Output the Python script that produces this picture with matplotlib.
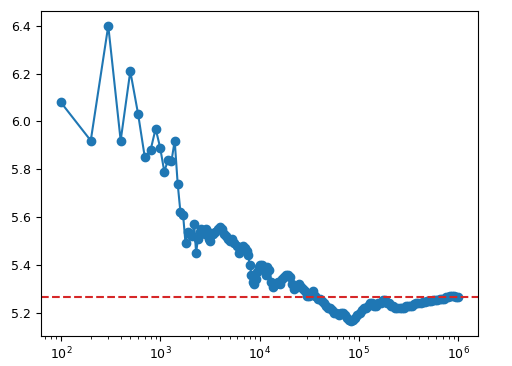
import numpy as np
import matplotlib.pyplot as plt

# number of samples
n = [100, 200, 300, 400, 500, 600, 700, 800, 900, 1000,
     1100, 1200, 1300, 1400, 1500, 1600, 1700, 1800, 1900,
     2000, 2100, 2200, 2300, 2400, 2500, 2600, 2700, 2800, 2900,
     3000, 3100, 3200, 3400, 3600, 3800, 4000, 4200, 4400, 4600,
     4800, 5000, 5300, 5600, 5900, 6200, 6500, 6800, 7100, 7400,
     7700, 8000, 8300, 8600, 8900, 9200, 9500, 9800, 10000, 10500,
     11000, 11500, 12000, 12600, 13200, 13800, 14500, 15200, 16000, 16800,
     17600, 18500, 19400, 20400, 21400, 22500, 23600, 24800, 26000, 27300,
     28700, 30100, 31600, 33200, 34900, 36600, 38400, 40300, 42300, 44400,
     46600, 49000, 51400, 54000, 56700, 59500, 62500, 65600, 68900, 72300,
     75900, 79700, 83700, 87900, 92300, 96900, 101700, 106800, 112100, 117700,
     123600, 129800, 136300, 143100, 150300, 157800, 165700, 174000, 182700, 191800,
     201400, 211500, 222100, 233200, 244900, 257100, 270000, 283500, 297700, 312600,
     328200, 344600, 361800, 379900, 398900, 418800, 439700, 461700, 484800, 509000,
     534500, 561200, 589300, 618800, 649700, 682200, 716300, 752100, 789700, 829200,
     870700, 914200, 959900, 1000000]

# running mean
mean = [6.08, 5.92, 6.40, 5.92, 6.21, 6.03, 5.85, 5.88, 5.97, 5.89,
        5.79, 5.84, 5.835, 5.92, 5.74, 5.62, 5.61, 5.49, 5.54,
        5.53, 5.52, 5.57, 5.45, 5.51, 5.54, 5.55, 5.54, 5.53, 5.55,
        5.54, 5.51, 5.50, 5.53, 5.54, 5.55, 5.56, 5.55, 5.53, 5.52,
        5.51, 5.50, 5.51, 5.49, 5.48, 5.45, 5.47, 5.48, 5.47, 5.46,
        5.44, 5.40, 5.36, 5.33, 5.32, 5.34, 5.37, 5.39, 5.40, 5.40,
        5.38, 5.36, 5.39, 5.38, 5.33, 5.31, 5.32, 5.33, 5.32, 5.34,
        5.35, 5.36, 5.36, 5.35, 5.32, 5.30, 5.31, 5.32, 5.31, 5.30,
        5.29, 5.27, 5.27, 5.28, 5.29, 5.27, 5.26, 5.26, 5.25, 5.24,
        5.23, 5.22, 5.22, 5.21, 5.20, 5.20, 5.19, 5.20, 5.20, 5.19,
        5.18, 5.17, 5.165, 5.17, 5.18, 5.19, 5.20, 5.21, 5.22, 5.22,
        5.23, 5.24, 5.24, 5.23, 5.23, 5.24, 5.24, 5.255, 5.255, 5.24,
        5.24, 5.23, 5.23, 5.22, 5.22, 5.22, 5.22, 5.22, 5.23, 5.23,
        5.23, 5.23, 5.235, 5.24, 5.24, 5.24, 5.245, 5.245, 5.25, 5.25,
        5.25, 5.255, 5.255, 5.255, 5.26, 5.26, 5.26, 5.265, 5.265, 5.27,
        5.27, 5.27, 5.265, 5.265]

expected = 5.267

fig = plt.figure(figsize=(5.12, 3.66), dpi=100)
ax = fig.add_axes([41/512, 30/366, 437/512, 325/366])
ax.plot(n, mean, marker='o', markersize=6, linewidth=1.5)
ax.axhline(expected, color='tab:red', linestyle='--', linewidth=1.5)
ax.set_xscale('log')
ax.tick_params(labelsize=9)
fig.savefig('out.png', dpi=100)
